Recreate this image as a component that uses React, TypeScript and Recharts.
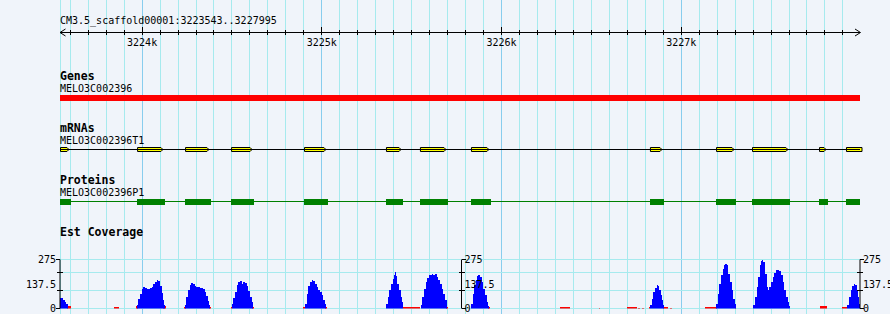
import React from "react";
import {
  ComposedChart,
  XAxis,
  YAxis,
  Area,
  ReferenceLine,
  ReferenceArea,
  CartesianGrid,
} from "recharts";

// ---- view ----
const START = 3223543;
const END = 3227995;
const title = "CM3.5_scaffold00001:3223543..3227995";

// ruler
const majorTicks = [3224000, 3225000, 3226000, 3227000];
const majorLabels = ["3224k", "3225k", "3226k", "3227k"];
const minorTicks = Array.from({ length: 44 }, (_, i) => 3223600 + i * 100).filter((v) => v < END);

// tracks
const geneName = "MELO3C002396";
const gene: [number, number] = [3223543, 3227995];
const mrnaName = "MELO3C002396T1";
const proteinName = "MELO3C002396P1";
const exons: [number, number][] = [
  [3223543, 3223604], [3223972, 3224127], [3224239, 3224383], [3224495, 3224623],
  [3224901, 3225034], [3225357, 3225452], [3225546, 3225702], [3225830, 3225941],
  [3226826, 3226904], [3227194, 3227305], [3227394, 3227605], [3227767, 3227817],
  [3227917, 3227995],
];

// est coverage (plus = blue, minus = red)
const covLabels = [0, 137.5, 275];
const covGrid = [0, 101, 202, 275];
const covBlue: [number, number][] = [
  [3223543, 61], [3223554, 58], [3223562, 50], [3223571, 38], [3223579, 28], [3223586, 0],
  [3223970, 19], [3223979, 56], [3223988, 84], [3223998, 107], [3224007, 120], [3224016, 116],
  [3224026, 110], [3224034, 112], [3224044, 114], [3224053, 122], [3224062, 136], [3224072, 150],
  [3224081, 159], [3224090, 154], [3224100, 125], [3224109, 88], [3224118, 47], [3224123, 19], [3224127, 0],
  [3224237, 19], [3224246, 65], [3224255, 103], [3224265, 130], [3224274, 143], [3224283, 138],
  [3224293, 126], [3224302, 120], [3224311, 118], [3224320, 117], [3224329, 115], [3224339, 108],
  [3224348, 95], [3224357, 70], [3224367, 42], [3224374, 20], [3224378, 0],
  [3224499, 25], [3224507, 60], [3224517, 95], [3224526, 130], [3224535, 150], [3224545, 154],
  [3224554, 140], [3224563, 150], [3224573, 144], [3224582, 128], [3224591, 100], [3224600, 62],
  [3224610, 37], [3224619, 0],
  [3224906, 28], [3224916, 80], [3224925, 125], [3224934, 148], [3224944, 162], [3224953, 156],
  [3224962, 140], [3224972, 121], [3224980, 103], [3224990, 93], [3224999, 75], [3225008, 47],
  [3225018, 28], [3225025, 0],
  [3225357, 28], [3225367, 65], [3225376, 104], [3225385, 138], [3225395, 165], [3225402, 186],
  [3225407, 204], [3225413, 180], [3225420, 139], [3225430, 102], [3225439, 65], [3225446, 37], [3225454, 0],
  [3225550, 19], [3225559, 65], [3225569, 111], [3225578, 149], [3225587, 171], [3225597, 186],
  [3225606, 186], [3225615, 195], [3225620, 186], [3225630, 191], [3225639, 176], [3225648, 158],
  [3225658, 139], [3225667, 111], [3225676, 84], [3225686, 46], [3225695, 20], [3225698, 0],
  [3225830, 28], [3225840, 84], [3225849, 130], [3225858, 162], [3225865, 180], [3225871, 186],
  [3225880, 176], [3225890, 149], [3225899, 111], [3225908, 74], [3225918, 37], [3225927, 15], [3225931, 0],
  [3226826, 19], [3226836, 56], [3226845, 93], [3226854, 117], [3226864, 130], [3226869, 124],
  [3226878, 102], [3226886, 74], [3226893, 46], [3226900, 19], [3226904, 0],
  [3227194, 28], [3227203, 84], [3227212, 139], [3227222, 186], [3227231, 223], [3227238, 242],
  [3227244, 247], [3227253, 242], [3227262, 195], [3227272, 149], [3227281, 102], [3227290, 56],
  [3227299, 28], [3227303, 0],
  [3227401, 19], [3227411, 65], [3227420, 121], [3227429, 176], [3227439, 242], [3227444, 269],
  [3227451, 273], [3227457, 260], [3227466, 195], [3227476, 121], [3227485, 106], [3227490, 121],
  [3227500, 149], [3227509, 176], [3227518, 199], [3227528, 214], [3227537, 217], [3227546, 210],
  [3227555, 186], [3227565, 149], [3227574, 102], [3227583, 65], [3227593, 37], [3227602, 13], [3227606, 0],
  [3227924, 19], [3227934, 65], [3227943, 102], [3227952, 124], [3227962, 136], [3227967, 130],
  [3227977, 102], [3227986, 65], [3227991, 28], [3227995, 0],
];
const covRed: [number, number, number][] = [
  [3223580, 3223603, 15], [3223844, 3223873, 6], [3223964, 3223975, 14], [3224118, 3224133, 12],
  [3224234, 3224242, 6], [3224372, 3224382, 6], [3224496, 3224502, 6], [3224612, 3224625, 8],
  [3224898, 3224908, 10], [3225015, 3225030, 8], [3225450, 3225548, 6], [3225693, 3225702, 6],
  [3225925, 3225938, 10], [3226045, 3226050, 5], [3226326, 3226381, 6], [3226542, 3226547, 5],
  [3226697, 3226753, 6], [3226761, 3226771, 5], [3226780, 3226793, 5], [3226822, 3226828, 6],
  [3226897, 3226926, 6], [3226940, 3226949, 5], [3227132, 3227200, 6], [3227298, 3227306, 6],
  [3227772, 3227809, 12], [3227893, 3227921, 6],
];

const W = 890;
const H = 314;
const MONO = "'DejaVu Sans Mono', monospace";
const MINOR = "#a6eaee";
const MAJOR = "#88cdee";
const CRISP = "crispEdges";

const viewEdges = [{ x: START, y: 0 }, { x: END, y: H }];
const blueData = covBlue.map(([x, y]) => ({ x, y }));
const redData = covRed.flatMap(([s, e, v]) => [{ x: s, y: v }, { x: e, y: 0 }]);

const RulerTick = (props: any) => {
  const { x, y, payload } = props;
  const v = payload.value;
  if (v === START)
    return <path d={`M${x + 5.5},${y - 3.5}L${x},${y}L${x + 5.5},${y + 3.5}`} stroke="#000" fill="none" />;
  if (v === END)
    return <path d={`M${x - 5},${y - 3.5}L${x + 0.5},${y}L${x - 5},${y + 3.5}`} stroke="#000" fill="none" />;
  const mi = majorTicks.indexOf(v);
  if (mi >= 0)
    return (
      <g>
        <line x1={x} x2={x} y1={y - 6} y2={y + 2.5} stroke="#000" shapeRendering={CRISP} />
        <text x={x} y={y + 13.5} textAnchor="middle" fontFamily={MONO} fontSize={10} fill="#000">
          {majorLabels[mi]}
        </text>
      </g>
    );
  return <line x1={x} x2={x} y1={y - 2.5} y2={y + 2.5} stroke="#000" shapeRendering={CRISP} />;
};

const CovTick = (props: any) => {
  const { x, y, payload, side } = props;
  const v = payload.value;
  const dir = side === "left" ? -1 : 1;
  const edge = v === covGrid[0] || v === covGrid[covGrid.length - 1];
  return (
    <g>
      {covGrid.includes(v) && (
        <line
          x1={edge ? x : x - 3}
          x2={edge ? x + dir * 4 : x + 3}
          y1={y}
          y2={y}
          stroke="#000"
          shapeRendering={CRISP}
        />
      )}
      {covLabels.includes(v) && (
        <text
          x={side === "left" ? x - 4 : x + 3}
          y={y}
          dy="0.36em"
          textAnchor={side === "left" ? "end" : "start"}
          fontFamily={MONO}
          fontSize={10}
          fill="#000"
        >
          {v}
        </text>
      )}
    </g>
  );
};

const ExonGlyph = (props: any) => {
  const { x, y, width, height, tip } = props;
  const end = tip ? x + width - 4 : x + width + 2;
  const d = tip
    ? `M${x + 0.5},${y + 0.5}H${end}L${end + 2},${y + height / 2}L${end},${y + height - 0.5}H${x + 0.5}Z`
    : `M${x + 0.5},${y + 0.5}H${end}V${y + height - 0.5}H${x + 0.5}Z`;
  return <path d={d} fill="#ffff00" stroke="#000" strokeWidth={1} />;
};

const layer: React.CSSProperties = { position: "absolute", left: 0 };
const allCov = [...covGrid, 137.5].sort((a, b) => a - b);

export default function App() {
  return (
    <div style={{ position: "absolute", left: 0, top: 0, width: W, height: H, overflow: "hidden", background: "#f0f4fa" }}>
      {/* vertical grid */}
      <div style={{ ...layer, top: 0 }}>
        <ComposedChart width={W} height={H} data={viewEdges} margin={{ top: 0, right: 30, bottom: 0, left: 60 }}>
          <XAxis type="number" dataKey="x" domain={[START, END]} hide allowDataOverflow />
          <YAxis type="number" dataKey="y" domain={[0, H]} reversed hide allowDataOverflow />
          <ReferenceLine x={START} stroke={MINOR} ifOverflow="visible" shapeRendering={CRISP} />
          {minorTicks.map((v) => (
            <ReferenceLine
              key={v}
              x={v}
              stroke={majorTicks.includes(v) ? MAJOR : MINOR}
              ifOverflow="visible"
              shapeRendering={CRISP}
            />
          ))}
        </ComposedChart>
      </div>

      {/* ruler */}
      <div style={{ ...layer, top: 0 }}>
        <ComposedChart width={W} height={50} data={viewEdges} margin={{ top: 0, right: 30, bottom: 0, left: 60 }}>
          <XAxis
            type="number"
            dataKey="x"
            domain={[START, END]}
            ticks={[START, ...minorTicks, END]}
            interval={0}
            height={17.5}
            tickLine={false}
            tickSize={0}
            tickMargin={0}
            axisLine={{ stroke: "#000" }}
            tick={<RulerTick />}
            allowDataOverflow
          />
          <YAxis hide domain={[0, 1]} />
        </ComposedChart>
      </div>

      {/* gene / mRNA / protein tracks */}
      <div style={{ ...layer, top: 0 }}>
        <ComposedChart width={W} height={H} data={viewEdges} margin={{ top: 0, right: 30, bottom: 0, left: 60 }}>
          <XAxis type="number" dataKey="x" domain={[START, END]} hide allowDataOverflow />
          <YAxis type="number" domain={[0, H]} reversed hide allowDataOverflow />
          <ReferenceArea x1={gene[0]} x2={gene[1]} y1={95} y2={101} fill="#ff0000" fillOpacity={1} stroke="none" ifOverflow="visible" />
          <ReferenceLine
            segment={[{ x: exons[0][0], y: 149.5 }, { x: exons[exons.length - 1][1], y: 149.5 }]}
            stroke="#000"
            ifOverflow="visible"
          />
          {exons.map(([s, e]) => (
            <ReferenceArea
              key={"m" + s}
              x1={s}
              x2={e}
              y1={147}
              y2={152}
              ifOverflow="visible"
              shape={(p: any) => <ExonGlyph {...p} tip={e < END} />}
            />
          ))}
          <ReferenceLine
            segment={[{ x: exons[0][0], y: 201.5 }, { x: exons[exons.length - 1][1], y: 201.5 }]}
            stroke="#008000"
            ifOverflow="visible"
          />
          {exons.map(([s, e]) => (
            <ReferenceArea
              key={"p" + s}
              x1={s}
              x2={e}
              y1={199}
              y2={205}
              fill="#008000"
              fillOpacity={1}
              stroke="none"
              ifOverflow="visible"
              shapeRendering={CRISP}
            />
          ))}
        </ComposedChart>
      </div>

      {/* track labels */}
      <svg width={W} height={H} style={{ position: "absolute", left: 0, top: 0 }}>
        <text x={60} y={24} fontFamily={MONO} fontSize={10}>{title}</text>
        <text x={60} y={80} fontFamily={MONO} fontSize={11.5} fontWeight="bold">Genes</text>
        <text x={60} y={91.5} fontFamily={MONO} fontSize={10}>{geneName}</text>
        <text x={60} y={132} fontFamily={MONO} fontSize={11.5} fontWeight="bold">mRNAs</text>
        <text x={60} y={143.5} fontFamily={MONO} fontSize={10}>{mrnaName}</text>
        <text x={60} y={184} fontFamily={MONO} fontSize={11.5} fontWeight="bold">Proteins</text>
        <text x={60} y={195.5} fontFamily={MONO} fontSize={10}>{proteinName}</text>
        <text x={60} y={236} fontFamily={MONO} fontSize={11.5} fontWeight="bold">Est Coverage</text>
      </svg>

      {/* est coverage */}
      <div style={{ ...layer, top: 250 }}>
        <ComposedChart width={W} height={64} margin={{ top: 9.5, right: 0, bottom: 5.5, left: 0 }}>
          <CartesianGrid yAxisId="l" vertical={false} horizontalValues={covGrid} stroke={MINOR} />
          <XAxis type="number" dataKey="x" domain={[START, END]} hide allowDataOverflow />
          <YAxis
            yAxisId="l"
            orientation="left"
            width={60}
            type="number"
            domain={[0, 275]}
            ticks={allCov}
            interval={0}
            tickLine={false}
            tickSize={0}
            tickMargin={0}
            axisLine={{ stroke: "#000" }}
            tick={<CovTick side="left" />}
            allowDataOverflow
          />
          <YAxis
            yAxisId="r"
            orientation="right"
            width={30}
            type="number"
            domain={[0, 275]}
            ticks={allCov}
            interval={0}
            tickLine={false}
            tickSize={0}
            tickMargin={0}
            axisLine={{ stroke: "#000" }}
            tick={<CovTick side="right" />}
            allowDataOverflow
          />
          <Area yAxisId="l" data={redData} dataKey="y" type="stepAfter" fill="#ff0000" fillOpacity={1} stroke="none" dot={false} activeDot={false} isAnimationActive={false} shapeRendering={CRISP} />
          <Area yAxisId="l" data={blueData} dataKey="y" type="stepAfter" fill="#0000ff" fillOpacity={1} stroke="none" dot={false} activeDot={false} isAnimationActive={false} shapeRendering={CRISP} />
        </ComposedChart>
      </div>

      {/* middle coverage scale */}
      <div style={{ ...layer, top: 250 }}>
        <ComposedChart width={W} height={64} data={viewEdges} margin={{ top: 9.5, right: 388.5, bottom: 5.5, left: 60 }}>
          <XAxis type="number" dataKey="x" domain={[START, END]} hide allowDataOverflow />
          <YAxis
            orientation="right"
            width={40}
            type="number"
            domain={[0, 275]}
            ticks={allCov}
            interval={0}
            tickLine={false}
            tickSize={0}
            tickMargin={0}
            axisLine={{ stroke: "#000" }}
            tick={<CovTick side="right" />}
            allowDataOverflow
          />
        </ComposedChart>
      </div>
    </div>
  );
}
